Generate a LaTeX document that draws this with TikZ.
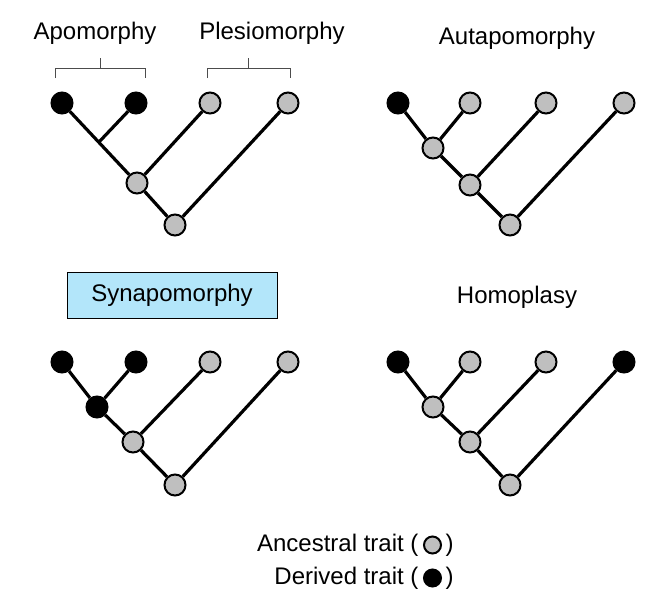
\documentclass[tikz,border=0pt]{standalone}
\usepackage{fontspec}
\setmainfont{Liberation Sans}
\usetikzlibrary{positioning}
\begin{document}
\begin{tikzpicture}[x=1pt,y=-1pt,
    anc/.style={circle,draw=black,line width=2pt,fill=black!25,minimum size=21pt,inner sep=0pt},
    der/.style={circle,draw=black,line width=2pt,fill=black,minimum size=21pt,inner sep=0pt},
    br/.style={line width=3.2pt},
    lab/.style={font=\fontsize{24}{28}\selectfont}]
    \useasboundingbox (0,0) rectangle (661,613);
    % top left
    \node[der] (a1) at (62,103) {}; \node[der] (a2) at (136,103) {};
    \node[anc] (a3) at (210,103) {}; \node[anc] (a4) at (288,103) {};
    \node[anc] (a5) at (137,183) {}; \node[anc] (a6) at (175,225) {};
    \coordinate (a0) at (99,142);
    \draw[br] (a1) -- (a5) (a2) -- (a0) (a3) -- (a5) (a5) -- (a6) (a4) -- (a6);
    \draw[thick,black!70] (55,78) -- (55,68) -- (145,68) -- (145,78) (100,68) -- (100,58);
    \draw[thick,black!70] (207,78) -- (207,68) -- (290,68) -- (290,78) (248,68) -- (248,58);
    \node[lab] (t1) at (95,33) {Apomorphy};
    \node[lab] (t2) at (272,33) {Plesiomorphy};
    % top right
    \node[der] (b1) at (398,103) {}; \node[anc] (b2) at (470,103) {};
    \node[anc] (b3) at (546,103) {}; \node[anc] (b4) at (624,103) {};
    \node[anc] (b5) at (433,148) {}; \node[anc] (b6) at (470,185) {};
    \node[anc] (b7) at (510,225) {};
    \draw[br] (b1) -- (b5) (b2) -- (b5) (b5) -- (b6) (b3) -- (b6) (b6) -- (b7) (b4) -- (b7);
    \node[lab] (t3) at (517,38) {Autapomorphy};
    % bottom left
    \node[der] (c1) at (62,362) {}; \node[der] (c2) at (136,362) {};
    \node[anc] (c3) at (210,362) {}; \node[anc] (c4) at (288,362) {};
    \node[der] (c5) at (97,407) {}; \node[anc] (c6) at (133,442) {};
    \node[anc] (c7) at (175,485) {};
    \draw[br] (c1) -- (c5) (c2) -- (c5) (c5) -- (c6) (c3) -- (c6) (c6) -- (c7) (c4) -- (c7);
    \node[lab,draw=black,line width=1pt,fill=cyan!30!white,minimum width=210pt,minimum height=46pt] (t4) at (172,295) {Synapomorphy};
    % bottom right
    \node[der] (d1) at (398,362) {}; \node[anc] (d2) at (470,362) {};
    \node[anc] (d3) at (546,362) {}; \node[der] (d4) at (624,362) {};
    \node[anc] (d5) at (433,407) {}; \node[anc] (d6) at (470,442) {};
    \node[anc] (d7) at (510,485) {};
    \draw[br] (d1) -- (d5) (d2) -- (d5) (d5) -- (d6) (d3) -- (d6) (d6) -- (d7) (d4) -- (d7);
    \node[lab] (t5) at (517,297) {Homoplasy};
    % legend
    \node[lab,anchor=east] (l1) at (422,545) {Ancestral trait (};
    \node[anc,minimum size=17pt,right=1pt of l1] (l2) {};
    \node[lab,right=0pt of l2] (l5) {)};
    \node[lab,anchor=east] (l3) at (422,578) {Derived trait (};
    \node[der,minimum size=17pt,right=1pt of l3] (l4) {};
    \node[lab,right=0pt of l4] (l6) {)};
\end{tikzpicture}
\end{document}
